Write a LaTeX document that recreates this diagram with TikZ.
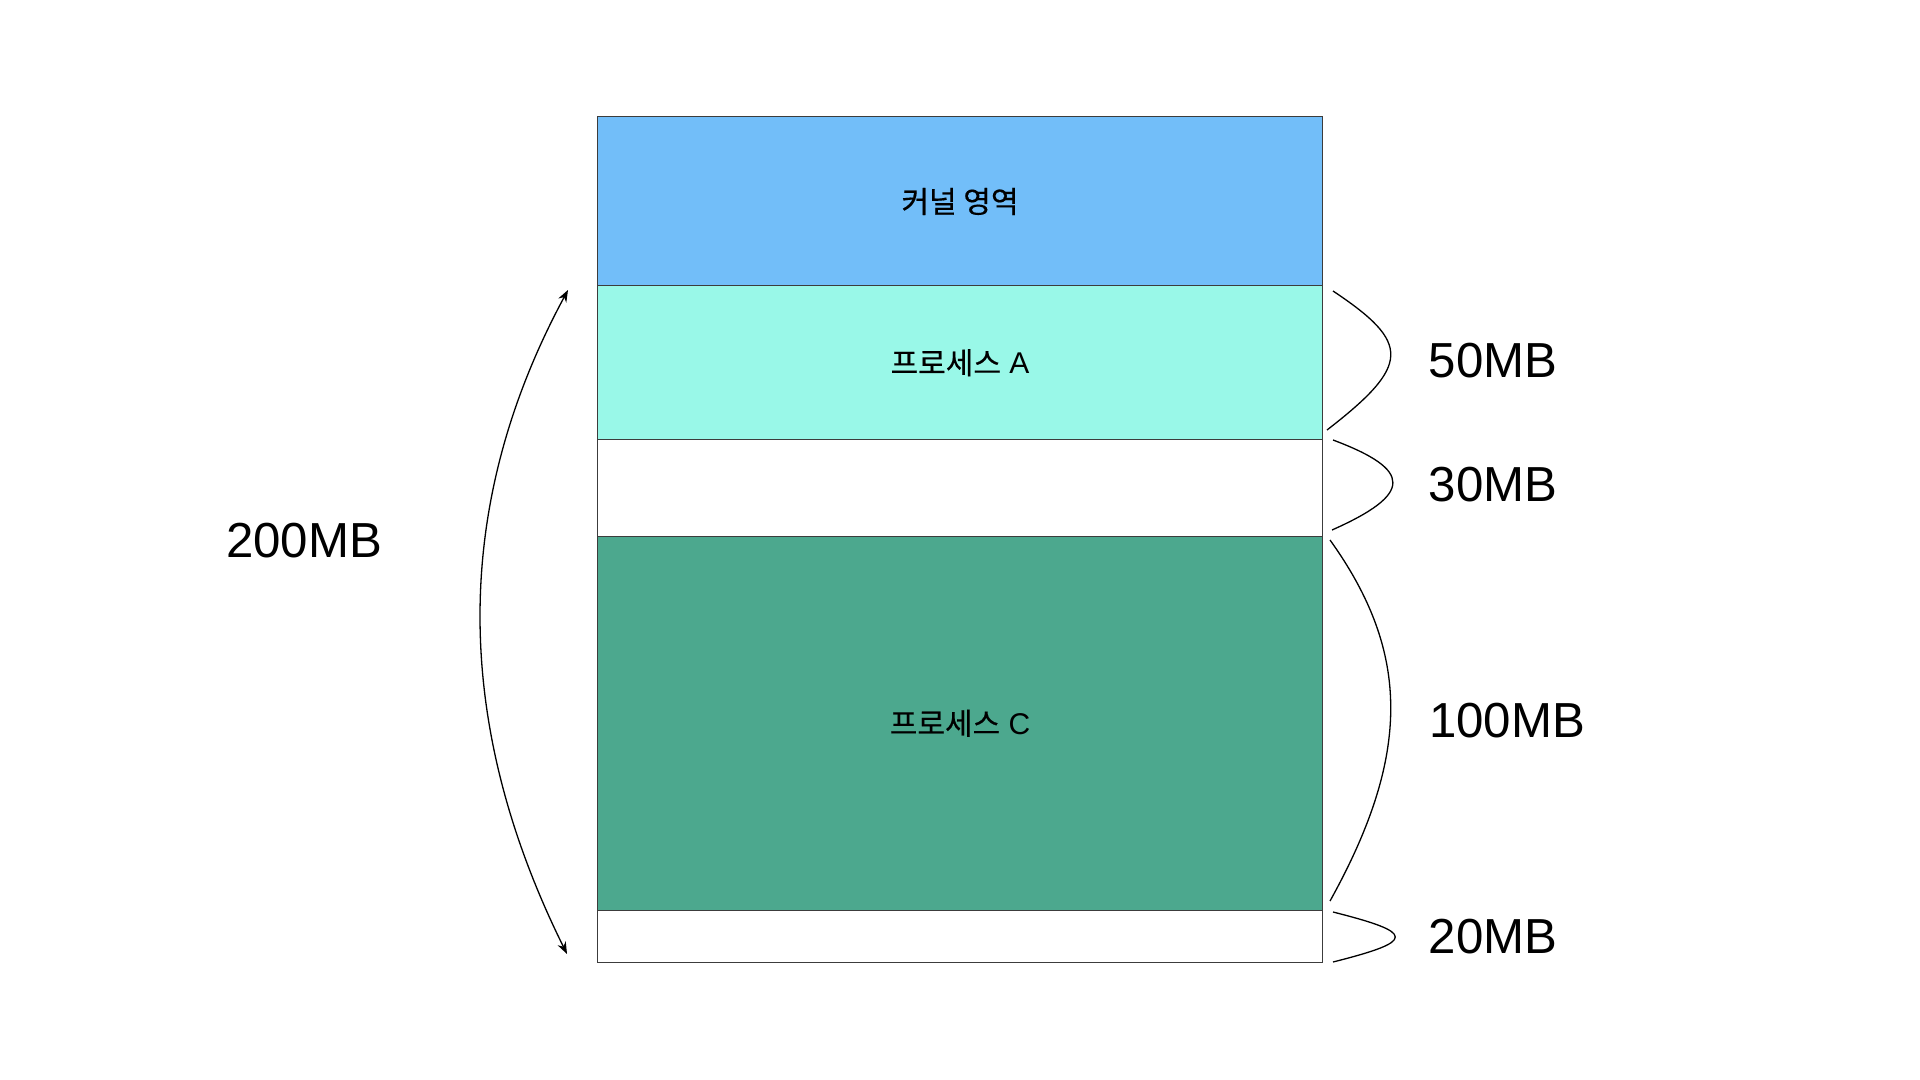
\documentclass[tikz,border=0pt]{standalone}
\usepackage{fontspec}
\setmainfont{Liberation Sans}
\newfontfamily\kr[FakeBold=0.4]{Noto Sans CJK KR}
\usetikzlibrary{arrows.meta}
\definecolor{kernelc}{HTML}{72BEF9}
\definecolor{procac}{HTML}{99F8E8}
\definecolor{procc}{HTML}{4CA88E}
\definecolor{edgec}{HTML}{3C3C3C}
\begin{document}
\begin{tikzpicture}[x=0.5pt,y=-0.5pt,
  seg/.style={draw=edgec,line width=0.5pt,anchor=north west,inner sep=0pt,outer sep=0pt,
    minimum width=362.5pt,font=\fontsize{15}{17}\selectfont},
  brace/.style={draw=black,line width=0.65pt},
  sizelbl/.style={font=\fontsize{24.6}{28}\selectfont,inner sep=0pt}]
\useasboundingbox (0,0) rectangle (1920,1080);
\node[seg,fill=kernelc,minimum height=84.5pt] (kernel) at (597.5,117) {\kr 커널 영역};
\node[seg,fill=procac,minimum height=76.75pt] (pa) at (597.5,286) {{\kr 프로세스} A};
\node[seg,fill=white,minimum height=48.5pt] (gap1) at (597.5,439.5) {};
\node[seg,fill=procc,minimum height=186.75pt] (pc) at (597.5,536.5) {{\kr 프로세스} C};
\node[seg,fill=white,minimum height=26.25pt] (gap2) at (597.5,910) {};
% brace end points
\coordinate (a1) at (1333,291);
\coordinate (a2) at (1327,430);
\coordinate (b1) at (1333,440);
\coordinate (b2) at (1332,530);
\coordinate (c1) at (1330,540);
\coordinate (c2) at (1330,901);
\coordinate (d1) at (1333,912);
\coordinate (d2) at (1333,962);
\coordinate (t1) at (568,290);
\coordinate (t2) at (567,954);
\draw[brace] (a1) .. controls (1411,343) and (1411,365) .. (a2);
\draw[brace] (b1) .. controls (1413,470) and (1413,494) .. (b2);
\draw[brace] (c1) .. controls (1411,653) and (1411,755) .. (c2);
\draw[brace] (d1) .. controls (1416,933) and (1416,941) .. (d2);
\draw[brace,{Stealth[length=6pt,width=4.5pt]}-{Stealth[length=6pt,width=4.5pt]}] (t1) .. controls (452,505) and (452,722) .. (t2);
\node[sizelbl] (l50) at (1493,361) {50MB};
\node[sizelbl] (l30) at (1493,485) {30MB};
\node[sizelbl] (l100) at (1507,721) {100MB};
\node[sizelbl] (l20) at (1493,937) {20MB};
\node[sizelbl] (l200) at (304,541) {200MB};
\end{tikzpicture}
\end{document}
